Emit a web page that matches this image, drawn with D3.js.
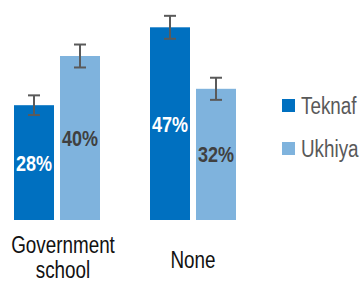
<!DOCTYPE html>
<html>
<head>
<meta charset="utf-8">
<script src="https://cdn.jsdelivr.net/npm/d3@7"></script>
<style>
  body { margin: 0; background: #fff; }
  svg { display: block; font-family: "Liberation Sans", Arial, sans-serif; }
</style>
</head>
<body>
<div id="vis"></div>
<script>
// data
const CATEGORIES = ["Government school", "None"];
const SERIES = ["Teknaf", "Ukhiya"];
const TEKNAF = [28, 47];
const UKHIYA = [40, 32];
const TEKNAF_ERR = [2.4, 2.8];
const UKHIYA_ERR = [2.8, 2.7];
const COLORS = ["#0070C0", "#7FB3DD"];
const LABEL_COLORS = ["#ffffff", "#404040"];

const FRAME_WIDTH = 360;
const FRAME_HEIGHT = 283;
const NARROW = 0.82; // no narrow font installed, squeeze Liberation Sans

const svg = d3.select("#vis")
  .append("svg")
  .attr("width", FRAME_WIDTH)
  .attr("height", FRAME_HEIGHT);

const rows = [];
CATEGORIES.forEach((c, i) => {
  rows.push({cat: c, series: SERIES[0], value: TEKNAF[i], err: TEKNAF_ERR[i], s: 0});
  rows.push({cat: c, series: SERIES[1], value: UKHIYA[i], err: UKHIYA_ERR[i], s: 1});
});

const X0 = d3.scaleBand()
  .domain(CATEGORIES)
  .range([14, 236])
  .paddingInner(50 / 136)
  .paddingOuter(0);

const X1 = d3.scaleBand()
  .domain(SERIES)
  .range([0, X0.bandwidth()])
  .paddingInner(6 / 46);

const Y = d3.scaleLinear()
  .domain([0, 50])
  .range([220, 15]);

const color = d3.scaleOrdinal().domain(SERIES).range(COLORS);

function squeeze(x, y) {
  return "translate(" + x + "," + y + ") scale(" + NARROW + ",1)";
}

// bars
svg.append("g")
  .selectAll("rect")
  .data(rows)
  .join("rect")
    .attr("x", d => X0(d.cat) + X1(d.series))
    .attr("y", d => Y(d.value))
    .attr("width", X1.bandwidth())
    .attr("height", d => Y(0) - Y(d.value))
    .attr("fill", d => color(d.series));

// error bars
const eb = svg.append("g")
  .attr("stroke", "#5a5a5a")
  .attr("stroke-width", 2)
  .selectAll("g")
  .data(rows)
  .join("g")
    .attr("transform", d => "translate(" + (X0(d.cat) + X1(d.series) + X1.bandwidth() / 2) + ",0)");
eb.append("line")
  .attr("y1", d => Y(d.value + d.err))
  .attr("y2", d => Y(d.value - d.err));
eb.append("line")
  .attr("x1", -6).attr("x2", 6)
  .attr("y1", d => Y(d.value + d.err))
  .attr("y2", d => Y(d.value + d.err));
eb.append("line")
  .attr("x1", -6).attr("x2", 6)
  .attr("y1", d => Y(d.value - d.err))
  .attr("y2", d => Y(d.value - d.err));

// value labels
svg.append("g")
  .selectAll("text")
  .data(rows)
  .join("text")
    .attr("transform", d => squeeze(X0(d.cat) + X1(d.series) + X1.bandwidth() / 2, (Y(d.value) + Y(0)) / 2))
    .attr("dy", "0.36em")
    .attr("text-anchor", "middle")
    .attr("font-size", "22px")
    .attr("font-weight", "bold")
    .attr("fill", d => LABEL_COLORS[d.s])
    .text(d => d.value + "%");

// category axis labels
const xAxis = svg.append("g")
  .attr("transform", "translate(0,220)")
  .call(d3.axisBottom(X0).tickSize(0).tickFormat(""));
xAxis.select(".domain").remove();
xAxis.selectAll(".tick").each(function(d) {
  const words = d.split(" ");
  const t = d3.select(this).append("text")
    .attr("fill", "#111")
    .attr("font-size", "23px")
    .attr("text-anchor", "middle")
    .attr("transform", words.length > 1 ? squeeze(6, 0) : squeeze(0, 0));
  if (words.length > 1) {
    t.append("tspan").attr("x", 0).attr("y", 33).text(words[0]);
    t.append("tspan").attr("x", 0).attr("y", 58).text(words[1]);
  } else {
    t.append("tspan").attr("x", 0).attr("y", 48).text(d);
  }
});

// legend
const legend = svg.append("g")
  .selectAll("g")
  .data(SERIES)
  .join("g")
    .attr("transform", (d, i) => "translate(282," + (99 + i * 43) + ")");
legend.append("rect")
  .attr("width", 13)
  .attr("height", 13)
  .attr("fill", d => color(d));
legend.append("text")
  .attr("transform", squeeze(19, 6.5))
  .attr("dy", "0.36em")
  .attr("font-size", "23px")
  .attr("fill", "#595959")
  .text(d => d);
</script>
</body>
</html>
